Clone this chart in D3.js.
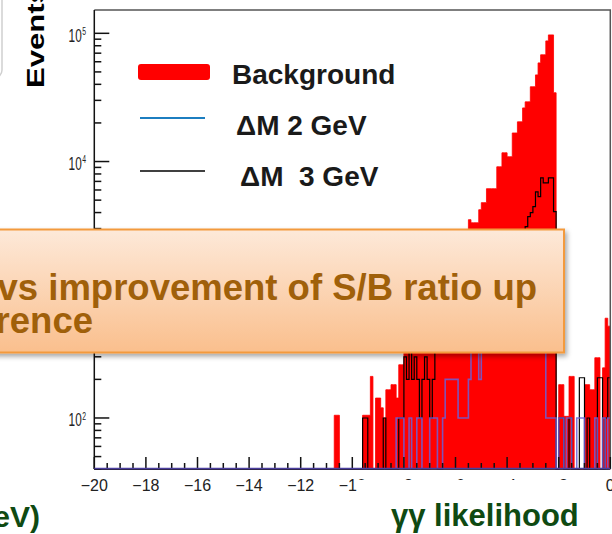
<!DOCTYPE html>
<html><head><meta charset="utf-8">
<script src="https://cdn.jsdelivr.net/npm/d3@7"></script>
<style>
html,body{margin:0;padding:0;background:#fff;}
svg{display:block;}
text{font-family:"Liberation Sans",Arial,Helvetica,sans-serif;}
</style></head>
<body>
<svg id="chart" width="612" height="534"></svg>
<script>
// ---------------- DATA ----------------
const binWidth = 0.1;
const xDomain = [-20, 0];
const yDomain = [40, 152000];
const firstFilledBinLow = -10.7;   // bins below this edge are empty
// Background (red, filled), bins from -10.7 to 0 in steps of 0.1
const background = [
 105,105,0,0,0,0,0,0,0,0,0,105,105,105,211,0,143,143,120,100,166,166,182,182,143,260,260,
 420,390,460,520,490,560,610,580,660,720,700,800,860,900,1000,1100,1150,1300,1400,1500,1700,1850,2100,2400,2800,
 3520,3330,3330,3330,4210,4780,4780,6140,6140,6140,6140,9100,9100,11700,11700,10900,10900,16700,16700,20400,20400,
 26200,29200,29200,38300,38300,47400,58800,68000,68000,87300,97200,97200,34400,
 0,182,182,103,103,211,211,0,0,0,0,182,182,166,166,295,295,0,246,600,520
];
// ΔM 3 GeV (black outline)
const dm3 = [
 0,0,0,0,0,0,0,0,0,0,0,100,100,0,0,0,0,0,0,100,0,0,0,0,0,100,100,
 300,200,400,200,300,200,100,200,300,200,100,200,400,500,400,600,700,600,800,900,1000,1100,1300,1500,1700,
 1800,2000,2100,2300,2400,2500,2600,2700,2600,2800,2900,2700,2800,2900,2800,2700,2900,2800,2900,2800,2900,
 2900,3110,3720,4000,4450,5800,5330,7470,6820,6820,7470,7470,4075,
 0,100,100,0,0,100,0,0,0,206,206,0,100,0,0,0,206,206,0,100,206
];
// ΔM 2 GeV (blue outline)
const dm2 = [
 0,0,0,0,0,0,0,0,0,0,0,0,0,0,0,0,0,0,0,0,0,0,0,0,100,100,100,
 0,0,100,0,0,100,100,0,0,0,100,100,100,0,0,100,200,200,200,200,200,100,100,100,100,
 200,340,340,340,200,340,450,600,500,700,800,900,800,1000,900,1100,1000,1200,1100,1000,900,
 1100,900,800,700,600,500,400,340,340,100,100,100,100,
 0,100,100,0,100,100,0,0,100,100,100,0,0,0,0,100,0,0,100,0,100
];
const xMajorTicks = [-20,-18,-16,-14,-12,-10,-8,-6,-4,-2,0];
const xTickLabels = ["\u221220","\u221218","\u221216","\u221214","\u221212","\u221210","\u22128","\u22126","\u22124","\u22122","0"];
const yMajorTicks = [100, 1000, 10000, 100000];
const yTickExponents = ["2","3","4","5"];
const legendLabels = ["Background", "\u0394M 2 GeV", "\u0394M  3 GeV"];
const colors = {bg:"#ff0000", dm2:"#6a60d8", dm2Legend:"#1c7ec0", dm3:"#000000"};

// ---------------- SCALES ----------------
const svg = d3.select("#chart");
const x = d3.scaleLinear().domain(xDomain).range([94.3, 610.3]);
const y = d3.scaleLog().domain(yDomain).range([469, 10]);
const yc = v => y(Math.max(v, yDomain[0]));

function fullBins(arr){
  const nBins = Math.round((xDomain[1]-xDomain[0])/binWidth);
  const offset = Math.round((firstFilledBinLow - xDomain[0])/binWidth);
  const out = [];
  for(let i=0;i<nBins;i++){
    const j=i-offset;
    out.push({x0: xDomain[0]+i*binWidth, x1: xDomain[0]+(i+1)*binWidth, v: (j>=0 && j<arr.length)? arr[j] : 0});
  }
  return out;
}
function stepPath(bins){
  let p = `M${x(bins[0].x0)},${yc(bins[0].v)}`;
  bins.forEach((b,i)=>{
    p += `H${x(b.x1)}`;
    if(i<bins.length-1) p += `V${yc(bins[i+1].v)}`;
  });
  return p;
}
function areaPath(bins){
  let p = `M${x(bins[0].x0)},${y(yDomain[0])}`;
  bins.forEach(b=>{ p += `V${yc(b.v)}H${x(b.x1)}`; });
  p += `V${y(yDomain[0])}Z`;
  return p;
}

// ---------------- FRAME ----------------
svg.append("rect").attr("x",-30).attr("y",-10).attr("width",32).attr("height",88).attr("rx",8)
  .attr("fill","#fff").attr("stroke","#cfcfcf").attr("stroke-width",1.5);

const bgBins = fullBins(background), b2 = fullBins(dm2), b3 = fullBins(dm3);
const plot = svg.append("g");
plot.append("path").attr("d", areaPath(bgBins)).attr("fill", colors.bg).attr("stroke", colors.bg).attr("stroke-width",0.8);
plot.append("path").attr("d", stepPath(b3)).attr("fill","none").attr("stroke",colors.dm3).attr("stroke-width",1.2);
plot.append("path").attr("d", stepPath(b2)).attr("fill","none").attr("stroke",colors.dm2).attr("stroke-width",1.6).attr("stroke-opacity",0.85);

// frame top/right
svg.append("path").attr("d",`M${x(xDomain[0])},${y(yDomain[1])}H${x(xDomain[1])}V${y(yDomain[0])}`)
  .attr("fill","none").attr("stroke","#555").attr("stroke-width",1.5);

// y axis
const axisG = svg.append("g").attr("stroke","#111").attr("stroke-width",1.5);
axisG.append("line").attr("x1",x(-20)).attr("x2",x(-20)).attr("y1",y(yDomain[0])).attr("y2",y(yDomain[1]));
const yTicks = y.ticks().filter(t=>t>=yDomain[0] && t<=yDomain[1]);
yTicks.forEach(t=>{
  const major = yMajorTicks.includes(t);
  axisG.append("line").attr("x1",x(-20)).attr("x2",x(-20)+(major?15:7)).attr("y1",y(t)).attr("y2",y(t));
});
// x axis
axisG.append("line").attr("x1",x(-20)).attr("x2",x(0)).attr("y1",y(yDomain[0])).attr("y2",y(yDomain[0]));
d3.range(0,41).forEach(i=>{
  const v = -20 + i*0.5;
  const major = (i%4===0);
  axisG.append("line").attr("x1",x(v)).attr("x2",x(v)).attr("y1",y(yDomain[0])).attr("y2",y(yDomain[0])-(major?12:6));
});
// blue baseline on top of axis
svg.append("line").attr("x1",x(-20)).attr("x2",x(0)).attr("y1",y(yDomain[0])-0.5).attr("y2",y(yDomain[0])-0.5)
  .attr("stroke","#4b3f9e").attr("stroke-width",1.6);

// y tick labels 10^n
yMajorTicks.forEach((t,i)=>{
  const g = svg.append("g").attr("transform",`translate(81.7,${y(t)+8.4}) scale(0.62,1)`);
  g.append("text").attr("text-anchor","end").attr("font-size",19).attr("fill","#222").text("10");
  g.append("text").attr("x",1).attr("y",-6.7).attr("font-size",11).attr("fill","#222").text(yTickExponents[i]);
});
// x tick labels
xMajorTicks.forEach((t,i)=>{
  svg.append("text").attr("x",x(t)).attr("y",491).attr("text-anchor","middle")
    .attr("font-size",16).attr("fill","#222").text(xTickLabels[i]);
});

// Y title
svg.append("text").attr("transform","translate(44,88) rotate(-90) scale(1.35,1)")
  .attr("font-size",23).attr("font-weight","bold").attr("fill","#000").text("Events");

// ---------------- LEGEND ----------------
svg.append("rect").attr("x",138).attr("y",64).attr("width",72).attr("height",16).attr("rx",3).attr("fill",colors.bg);
svg.append("line").attr("x1",140).attr("x2",205).attr("y1",118).attr("y2",118).attr("stroke",colors.dm2Legend).attr("stroke-width",2);
svg.append("line").attr("x1",140).attr("x2",205).attr("y1",171).attr("y2",171).attr("stroke",colors.dm3).attr("stroke-width",1.6);
[[232,84],[236,135],[240,186]].forEach((p,i)=>{
  svg.append("text").attr("x",p[0]).attr("y",p[1]).attr("font-size",28).attr("font-weight","bold")
    .attr("fill","#1a1a1a").style("white-space","pre").text(legendLabels[i]);
});

// ---------------- CALLOUT ----------------
const defs = svg.append("defs");
const grad = defs.append("linearGradient").attr("id","boxGrad").attr("x1",0).attr("x2",0).attr("y1",0).attr("y2",1);
grad.append("stop").attr("offset","0%").attr("stop-color","#fde9d9");
grad.append("stop").attr("offset","100%").attr("stop-color","#fabf8d");
const flt = defs.append("filter").attr("id","shadow").attr("x","-10%").attr("y","-10%").attr("width","130%").attr("height","140%");
flt.append("feDropShadow").attr("dx",2).attr("dy",3).attr("stdDeviation",2.5).attr("flood-color","#000").attr("flood-opacity",0.35);
svg.append("rect").attr("x",-10).attr("y",229.5).attr("width",574).attr("height",123)
  .attr("fill","url(#boxGrad)").attr("stroke","#f39a3c").attr("stroke-width",2).attr("filter","url(#shadow)");
svg.append("text").attr("x",537).attr("y",300).attr("text-anchor","end").attr("font-size",36.5).attr("font-weight","bold")
  .attr("fill","#a0600a").text("vs improvement of S/B ratio up");
svg.append("text").attr("x",93).attr("y",333).attr("text-anchor","end").attr("font-size",36.5).attr("font-weight","bold")
  .attr("fill","#a0600a").text("rence");

// ---------------- BOTTOM TEXT ----------------
svg.append("rect").attr("x",357).attr("y",480).attr("width",246).attr("height",54).attr("fill","#fff");
svg.append("text").attr("x",391).attr("y",526).attr("font-size",31).attr("font-weight","bold").attr("fill","#0f4a12").text("\u03b3\u03b3 likelihood");
svg.append("text").attr("x",40).attr("y",527).attr("text-anchor","end").attr("font-size",30).attr("font-weight","bold").attr("fill","#0f4a12").text("(GeV)");
</script>
</body></html>
